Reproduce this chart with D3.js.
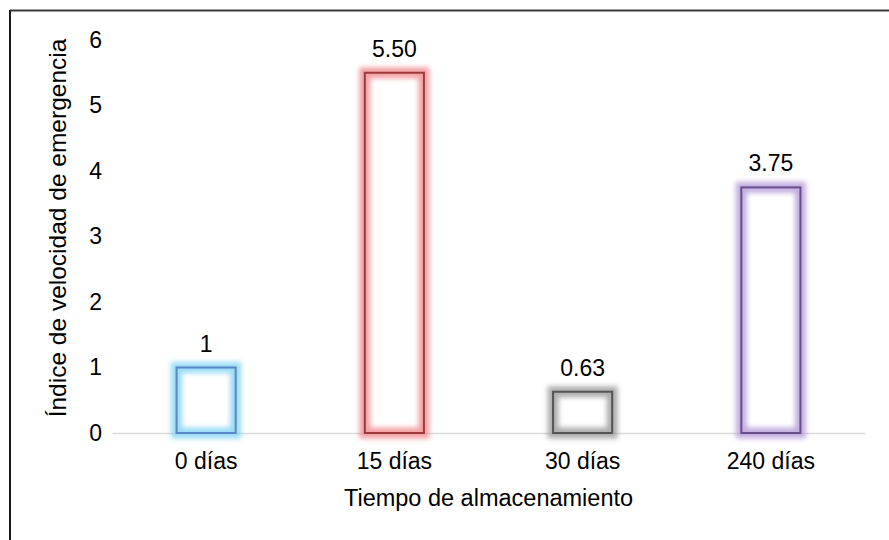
<!DOCTYPE html>
<html>
<head>
<meta charset="utf-8">
<script src="https://cdn.jsdelivr.net/npm/d3@7"></script>
<style>
  html, body { margin: 0; padding: 0; background: #fff; }
  svg { display: block; }
</style>
</head>
<body>
<svg id="chart" width="889" height="540"></svg>
<script>
// ── Data ───────────────────────────────────────────────────
const categories = ['0 días', '15 días', '30 días', '240 días'];
const values = [1, 5.50, 0.63, 3.75];
const valueLabels = ['1', '5.50', '0.63', '3.75'];
const yTicks = [0, 1, 2, 3, 4, 5, 6];

// edge colour / glow colour per bar
const edgeColors = ['#5b86c9', '#9e3a3c', '#555555', '#6a4e8c'];
const glowColors = ['#7fd3f2', '#f08a8e', '#9a9a9a', '#b49ad8'];

const FONT = "Arial, 'Liberation Sans', sans-serif";
const FS = 23;

const svg = d3.select('#chart');
const W = 889, H = 540;
const margin = { top: 40, right: 24, bottom: 107, left: 112 };

// outer frame (only top and left edges are visible)
svg.append('line')
  .attr('x1', 10).attr('x2', W).attr('y1', 10.5).attr('y2', 10.5)
  .attr('stroke', '#3a3a3a').attr('stroke-width', 2);
svg.append('line')
  .attr('x1', 10).attr('x2', 10).attr('y1', 10).attr('y2', H)
  .attr('stroke', '#1a1a1a').attr('stroke-width', 2);

const x = d3.scaleBand()
  .domain(categories)
  .range([margin.left, W - margin.right])
  .paddingInner(0.686)
  .paddingOuter(0.343);

const y = d3.scaleLinear()
  .domain([0, 6])
  .range([H - margin.bottom, margin.top]);

// glow filter
const defs = svg.append('defs');
const f = defs.append('filter').attr('id', 'glow')
  .attr('x', '-40%').attr('y', '-40%').attr('width', '180%').attr('height', '180%');
f.append('feGaussianBlur').attr('stdDeviation', 2.8);

// ── Axes ───────────────────────────────────────────────────
const yAxis = svg.append('g')
  .attr('transform', `translate(${margin.left},0)`)
  .call(d3.axisLeft(y).tickValues(yTicks).tickFormat(d3.format('d')).tickSize(0).tickPadding(10));
yAxis.select('.domain').remove();
yAxis.selectAll('text')
  .attr('font-family', FONT).attr('font-size', FS).attr('fill', '#000');

const xAxis = svg.append('g')
  .attr('transform', `translate(0,${y(0)})`)
  .call(d3.axisBottom(x).tickSize(0).tickPadding(20));
xAxis.select('.domain').attr('stroke', '#d9d9d9').attr('stroke-width', 1.5);
xAxis.selectAll('text')
  .attr('font-family', FONT).attr('font-size', FS).attr('fill', '#000');

// ── Bars ───────────────────────────────────────────────────
const bars = svg.append('g').selectAll('g.bar')
  .data(values)
  .join('g')
  .attr('class', 'bar');

bars.append('rect')
  .attr('x', (d, i) => x(categories[i]))
  .attr('y', d => y(d))
  .attr('width', x.bandwidth())
  .attr('height', d => y(0) - y(d))
  .attr('fill', 'none')
  .attr('stroke', (d, i) => glowColors[i])
  .attr('stroke-width', 11)
  .attr('stroke-opacity', 0.8)
  .attr('filter', 'url(#glow)');

bars.append('rect')
  .attr('x', (d, i) => x(categories[i]))
  .attr('y', d => y(d))
  .attr('width', x.bandwidth())
  .attr('height', d => y(0) - y(d))
  .attr('fill', 'none')
  .attr('stroke', (d, i) => edgeColors[i])
  .attr('stroke-width', 2);

bars.append('text')
  .attr('x', (d, i) => x(categories[i]) + x.bandwidth() / 2)
  .attr('y', d => y(d) - 16)
  .attr('text-anchor', 'middle')
  .attr('font-family', FONT)
  .attr('font-size', FS)
  .attr('fill', '#000')
  .text((d, i) => valueLabels[i]);

// ── Axis titles ────────────────────────────────────────────
svg.append('text')
  .attr('transform', `translate(66,228) rotate(-90)`)
  .attr('text-anchor', 'middle')
  .attr('font-family', FONT).attr('font-size', 24.5).attr('fill', '#000')
  .text('Índice de velocidad de emergencia');

svg.append('text')
  .attr('x', (margin.left + W - margin.right) / 2)
  .attr('y', 506)
  .attr('text-anchor', 'middle')
  .attr('font-family', FONT).attr('font-size', 23.5).attr('fill', '#000')
  .text('Tiempo de almacenamiento');
</script>
</body>
</html>
